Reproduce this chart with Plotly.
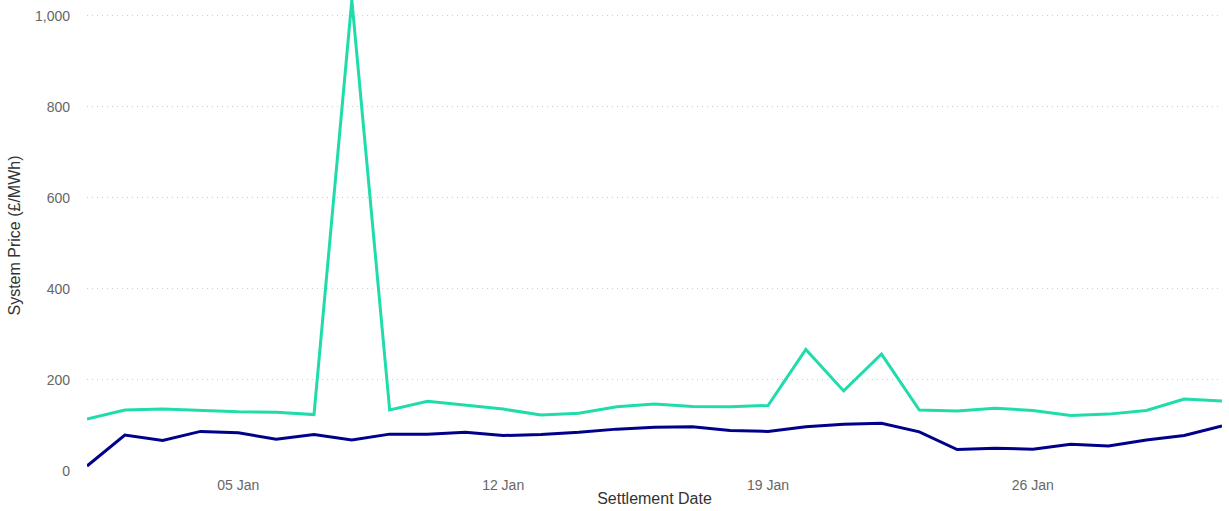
import pandas as pd
import plotly.graph_objects as go

# settlement dates, Jan 2025
dates = pd.date_range("2025-01-01", "2025-01-31", freq="D")

# daily max system price (teal)
price_max = [114, 134, 136, 133, 130, 129, 124, 1035, 134, 153,
             145, 136, 123, 127, 141, 147, 142, 141, 144, 267,
             176, 257, 134, 132, 138, 133, 122, 125, 133, 158,
             154]

# daily mean system price (navy)
price_mean = [11, 79, 67, 87, 84, 70, 80, 68, 81, 81,
              85, 78, 80, 85, 92, 96, 97, 89, 87, 97,
              103, 105, 86, 47, 50, 48, 59, 55, 68, 78,
              99]

fig = go.Figure()
fig.add_trace(go.Scatter(x=dates, y=price_max, mode="lines",
                         line=dict(color="#20DCAA", width=3), name="Max"))
fig.add_trace(go.Scatter(x=dates, y=price_mean, mode="lines",
                         line=dict(color="#00008B", width=3), name="Mean"))

fig.update_layout(
    width=1229, height=511,
    margin=dict(l=87, r=7, t=0, b=40),
    plot_bgcolor="white", paper_bgcolor="white",
    showlegend=False,
    font=dict(family="Liberation Sans, Arial, sans-serif", size=14, color="#666666"),
    xaxis=dict(
        title=dict(text="Settlement Date", font=dict(size=16, color="#333333"), standoff=0),
        tickformat="%d %b", dtick=7 * 86400000, tick0="2025-01-05",
        ticklabelstandoff=4,
        showgrid=False, zeroline=False, showline=False, ticks="",
    ),
    yaxis=dict(
        title=dict(text="System Price (£/MWh)", font=dict(size=16, color="#333333"), standoff=10),
        range=[0, max(price_max)], tickformat=",", dtick=200,
        ticklabelstandoff=16,
        showgrid=True, gridcolor="#cccccc", griddash="1px,4px", gridwidth=1,
        zeroline=False, showline=False, ticks="",
    ),
)

fig.write_html("out.html", config={"displayModeBar": False},
               post_script="document.body.style.margin='0px';")
